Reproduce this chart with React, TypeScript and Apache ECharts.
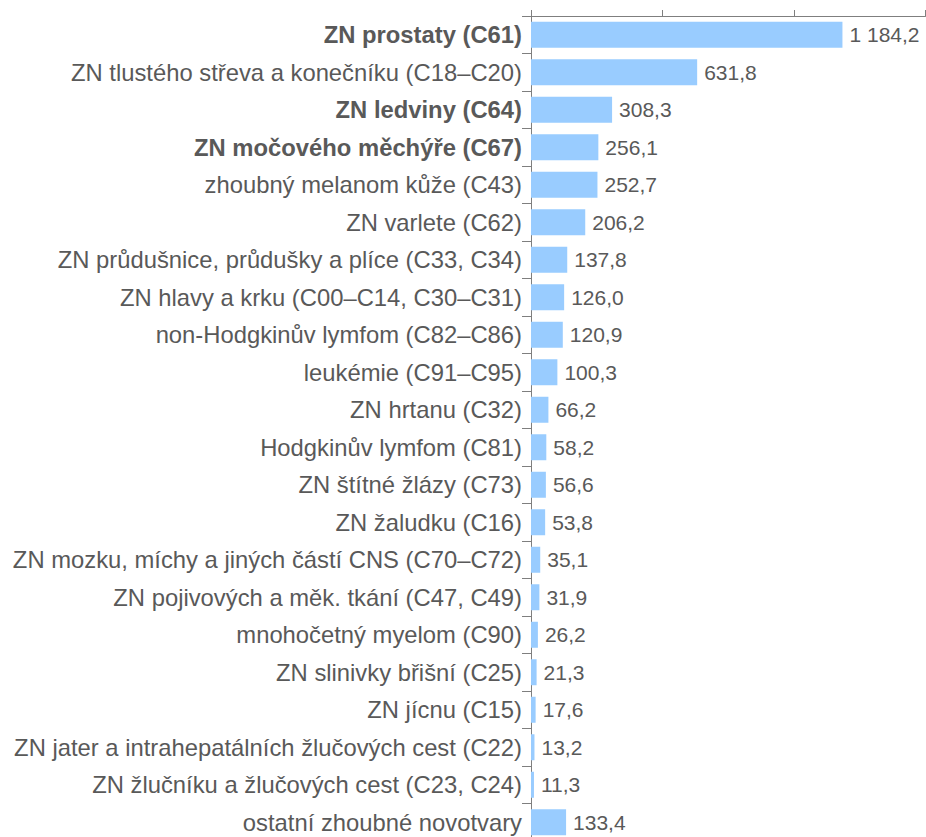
import React, { useEffect, useRef } from "react";
import * as echarts from "echarts";

const categories: string[] = [
  "ZN prostaty (C61)",
  "ZN tlustého střeva a konečníku (C18–C20)",
  "ZN ledviny (C64)",
  "ZN močového měchýře (C67)",
  "zhoubný melanom kůže (C43)",
  "ZN varlete (C62)",
  "ZN průdušnice, průdušky a plíce (C33, C34)",
  "ZN hlavy a krku (C00–C14, C30–C31)",
  "non-Hodgkinův lymfom (C82–C86)",
  "leukémie (C91–C95)",
  "ZN hrtanu (C32)",
  "Hodgkinův lymfom (C81)",
  "ZN štítné žlázy (C73)",
  "ZN žaludku (C16)",
  "ZN mozku, míchy a jiných částí CNS (C70–C72)",
  "ZN pojivových a měk. tkání (C47, C49)",
  "mnohočetný myelom (C90)",
  "ZN slinivky břišní (C25)",
  "ZN jícnu (C15)",
  "ZN jater a intrahepatálních žlučových cest (C22)",
  "ZN žlučníku a žlučových cest (C23, C24)",
  "ostatní zhoubné novotvary",
];

const values: number[] = [
  1184.2, 631.8, 308.3, 256.1, 252.7, 206.2, 137.8, 126.0, 120.9, 100.3, 66.2,
  58.2, 56.6, 53.8, 35.1, 31.9, 26.2, 21.3, 17.6, 13.2, 11.3, 133.4,
];

const boldCategories: string[] = [
  "ZN prostaty (C61)",
  "ZN ledviny (C64)",
  "ZN močového měchýře (C67)",
];

const axisMax = 1500;
const axisInterval = 500;

function formatCz(v: number): string {
  const fixed = v.toFixed(1);
  const [intPart, dec] = fixed.split(".");
  const withSep = intPart.replace(/\B(?=(\d{3})+(?!\d))/g, " ");
  return withSep + "," + dec;
}

export default function App() {
  const ref = useRef<HTMLDivElement>(null);
  useEffect(() => {
    if (!ref.current) return;
    const chart = echarts.init(ref.current, undefined, { renderer: "svg" });
    const font = "Arial, 'Liberation Sans', sans-serif";
    const catSize = 23.8;
    chart.setOption({
      animation: false,
      grid: { left: 531, top: 16, width: 394.5, height: 825, containLabel: false },
      xAxis: {
        type: "value",
        position: "top",
        min: 0,
        max: axisMax,
        interval: axisInterval,
        axisLine: { show: true, lineStyle: { color: "#7f7f7f", width: 1 } },
        axisTick: { show: true, length: 6, lineStyle: { color: "#7f7f7f" } },
        axisLabel: { show: false },
        splitLine: { show: false },
      },
      yAxis: {
        type: "category",
        inverse: true,
        data: categories,
        axisLine: { show: true, lineStyle: { color: "#7f7f7f", width: 1 } },
        axisTick: { show: true, length: 9, lineStyle: { color: "#7f7f7f" } },
        axisLabel: {
          margin: 9,
          fontSize: catSize,
          fontFamily: font,
          color: "#595959",
          formatter: (v: string) =>
            boldCategories.includes(v) ? "{b|" + v + "}" : "{n|" + v + "}",
          rich: {
            b: { fontWeight: "bold", fontSize: catSize, fontFamily: font, color: "#595959" },
            n: { fontSize: catSize, fontFamily: font, color: "#595959" },
          },
        },
      },
      series: [
        {
          type: "bar",
          data: values,
          barWidth: 26,
          itemStyle: { color: "#99CCFF" },
          label: {
            show: true,
            position: "right",
            distance: 7,
            fontSize: 21,
            fontFamily: font,
            color: "#595959",
            formatter: (p: any) => formatCz(p.value),
          },
        },
      ],
    });
    return () => chart.dispose();
  }, []);
  return (
    <div
      style={{
        position: "fixed",
        left: 0,
        top: 0,
        width: 926,
        height: 837,
        overflow: "hidden",
        background: "#fff",
      }}
    >
      <div ref={ref} style={{ width: 926, height: 850 }} />
    </div>
  );
}
